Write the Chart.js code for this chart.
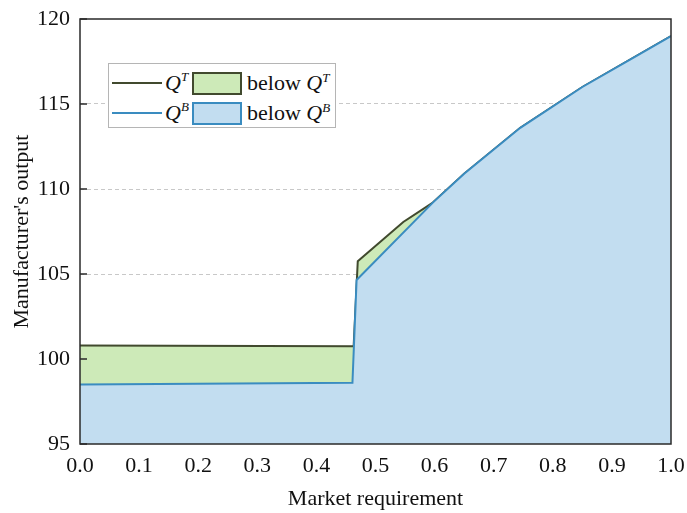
<!DOCTYPE html>
<html lang="en">
<head>
  <meta charset="UTF-8">
  <title>Manufacturer's output vs market requirement</title>
  <script src="https://cdn.jsdelivr.net/npm/chart.js"></script>
  <style>
    body { margin: 0; background: #fff; }
    .wrap { position: relative; width: 687px; height: 513px; }
    .legend {
      position: absolute; left: 108px; top: 63px; width: 226px; height: 63px;
      border: 1px solid #b5b5b5; background: #fff;
      font-family: 'Liberation Serif', 'DejaVu Serif', serif; font-size: 22px; color: #111;
    }
    .row { position: absolute; left: 0; height: 26px; display: flex; align-items: center; }
    .row .ln { width: 50px; height: 0; border-top: 2px solid; margin-left: 3px; }
    .row .q { width: 28px; font-style: italic; margin-left: 3px; }
    .row .q sup { font-size: 13px; position: relative; top: -1px; }
    .row .box { width: 50px; height: 23px; border: 2px solid; box-sizing: border-box; margin-left: -1px; }
    .row .lab { margin-left: 5px; white-space: nowrap; }
    .row .lab sup { font-size: 13px; }
  </style>
</head>
<body>
  <div class="wrap">
    <canvas id="chart" width="687" height="513"></canvas>
    <div class="legend">
      <div class="row" style="top:6px">
        <span class="ln" style="border-color:#414a2e"></span>
        <span class="q">Q<sup>T</sup></span>
        <span class="box" style="border-color:#414a2e;background:#cdeab8"></span>
        <span class="lab">below <i>Q<sup>T</sup></i></span>
      </div>
      <div class="row" style="top:36px">
        <span class="ln" style="border-color:#3a8cc0"></span>
        <span class="q">Q<sup>B</sup></span>
        <span class="box" style="border-color:#3a8cc0;background:#c2ddf0"></span>
        <span class="lab">below <i>Q<sup>B</sup></i></span>
      </div>
    </div>
  </div>

  <script>
    // Q^T (top) and Q^B (bottom) outputs vs market requirement
    const qtX = [0, 0.463, 0.47, 0.547, 0.597, 0.65, 0.745, 0.85, 0.93, 1.0];
    const qtY = [100.8, 100.75, 105.75, 108.06, 109.2, 110.9, 113.6, 116.0, 117.6, 119.0];
    const qbX = [0, 0.461, 0.468, 0.597, 0.65, 0.745, 0.85, 0.93, 1.0];
    const qbY = [98.5, 98.6, 104.65, 109.2, 110.9, 113.6, 116.0, 117.6, 119.0];
    const yTicks = [95, 100, 105, 110, 115, 120];

    const serif = "'Liberation Serif', 'DejaVu Serif', serif";
    const toPts = (xs, ys) => xs.map((x, i) => ({ x: x, y: ys[i] }));

    // frame + inward y ticks
    const framePlugin = {
      id: 'frame',
      afterDraw(chart) {
        const { ctx, chartArea: a, scales } = chart;
        ctx.save();
        ctx.strokeStyle = '#2a2a2a';
        ctx.lineWidth = 1.5;
        ctx.strokeRect(a.left, a.top, a.right - a.left, a.bottom - a.top);
        ctx.beginPath();
        yTicks.forEach(v => {
          const y = scales.y.getPixelForValue(v);
          ctx.moveTo(a.left, y);
          ctx.lineTo(a.left + 7, y);
        });
        ctx.stroke();
        ctx.restore();
      }
    };

    new Chart(document.getElementById('chart'), {
      type: 'line',
      data: {
        datasets: [
          {
            label: 'Q^B',
            data: toPts(qbX, qbY),
            borderColor: '#3a8cc0',
            backgroundColor: '#c2ddf0',
            borderWidth: 2,
            fill: 'start',
            pointRadius: 0,
            tension: 0
          },
          {
            label: 'Q^T',
            data: toPts(qtX, qtY),
            borderColor: '#414a2e',
            backgroundColor: '#cdeab8',
            borderWidth: 2,
            fill: 'start',
            pointRadius: 0,
            tension: 0
          }
        ]
      },
      options: {
        responsive: false,
        animation: false,
        layout: { padding: { left: 0, right: 16, top: 19, bottom: 0 } },
        plugins: { legend: { display: false }, tooltip: { enabled: false } },
        scales: {
          x: {
            type: 'linear', min: 0, max: 1,
            ticks: {
              stepSize: 0.1, padding: 9, color: '#111',
              font: { family: serif, size: 22 },
              callback: v => v.toFixed(1)
            },
            grid: { display: false, drawTicks: false },
            border: { display: false },
            title: {
              display: true, text: 'Market requirement', color: '#111',
              font: { family: serif, size: 22 }, padding: { top: 4, bottom: 1 }
            },
            afterFit(s) { s.height = 69; s.paddingLeft = 0; s.paddingRight = 0; }
          },
          y: {
            min: 95, max: 120,
            ticks: {
              stepSize: 5, padding: 10, color: '#111',
              font: { family: serif, size: 22 }
            },
            grid: {
              color: ctx => (ctx.tick.value === 95 || ctx.tick.value === 120) ? 'rgba(0,0,0,0)' : '#c8c8c8',
              drawTicks: false, lineWidth: 1
            },
            border: { display: false, dash: [4, 3] },
            title: {
              display: true, text: "Manufacturer's output", color: '#111',
              font: { family: serif, size: 22 }, padding: { top: 9, bottom: 2 }
            },
            afterFit(s) { s.width = 80; s.paddingTop = 0; s.paddingBottom = 0; }
          }
        }
      },
      plugins: [framePlugin]
    });
  </script>
</body>
</html>
